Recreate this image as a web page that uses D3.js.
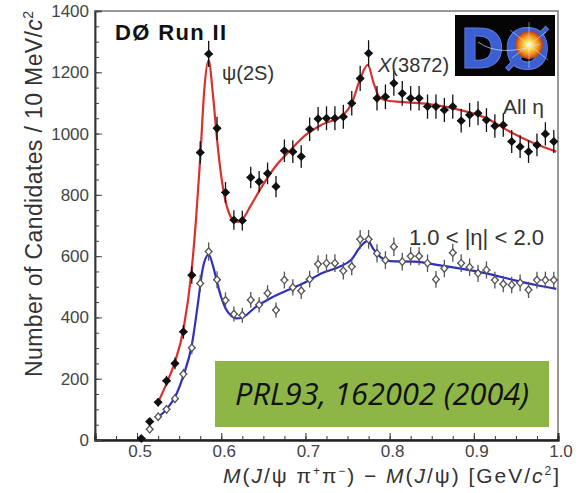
<!DOCTYPE html>
<html>
<head>
<meta charset="utf-8">
<script src="https://cdn.jsdelivr.net/npm/d3@7"></script>
<style>
  body { margin: 0; background: #fff; }
  svg { display: block; font-family: 'Liberation Sans', Arial, sans-serif; }
</style>
</head>
<body>
<svg id="chart" width="588" height="493"></svg>
<script>
// bin centres (10 MeV bins) and candidate counts
var binCentres = [0.505, 0.515, 0.525, 0.535, 0.545, 0.555, 0.565, 0.575, 0.585, 0.595,
                  0.605, 0.615, 0.625, 0.635, 0.645, 0.655, 0.665, 0.675, 0.685, 0.695,
                  0.705, 0.715, 0.725, 0.735, 0.745, 0.755, 0.765, 0.775, 0.785, 0.795,
                  0.805, 0.815, 0.825, 0.835, 0.845, 0.855, 0.865, 0.875, 0.885, 0.895,
                  0.905, 0.915, 0.925, 0.935, 0.945, 0.955, 0.965, 0.975, 0.985, 0.995];

var allEta = [5, 60, 123, 193, 250, 353, 538, 938, 1260, 1017,
              808, 718, 716, 857, 843, 870, 827, 944, 941, 925,
              1014, 1048, 1050, 1050, 1055, 1099, 1180, 1262, 1115, 1120,
              1164, 1131, 1115, 1115, 1088, 1088, 1077, 1088, 1042, 1061,
              1066, 1044, 1025, 1028, 974, 957, 941, 963, 999, 974];

var fwdEta = [null, 35, 76, 100, 135, 215, 301, 511, 615, 523,
              456, 411, 407, 457, 441, 479, 424, 522, 498, 487,
              525, 574, 577, 577, 552, 566, 655, 655, 609, 587,
              631, 582, 600, 600, 577, 524, 560, 611, 577, 564,
              544, 555, 522, 509, 506, 513, 490, 522, 522, 522];

// fitted curves
var fitAllX = [0.525, 0.535, 0.545, 0.555, 0.565, 0.570, 0.575, 0.580, 0.585, 0.590,
               0.595, 0.600, 0.605, 0.610, 0.615, 0.620, 0.625, 0.635, 0.650, 0.665,
               0.680, 0.700, 0.720, 0.745, 0.755, 0.765, 0.774, 0.781, 0.788, 0.797,
               0.820, 0.845, 0.876, 0.915, 0.943, 0.970, 0.998];
var fitAllY = [123, 185, 255, 360, 560, 720, 920, 1150, 1240, 1130,
               980, 860, 780, 735, 715, 712, 720, 765, 835, 895,
               940, 995, 1030, 1061, 1099, 1178, 1224, 1165, 1118, 1108,
               1102, 1097, 1082, 1050, 1006, 970, 941];

var fitFwdX = [0.525, 0.535, 0.545, 0.555, 0.565, 0.572, 0.578, 0.585, 0.590, 0.595,
               0.600, 0.605, 0.612, 0.618, 0.625, 0.640, 0.660, 0.680, 0.700, 0.720,
               0.740, 0.755, 0.765, 0.774, 0.781, 0.790, 0.800, 0.830, 0.860, 0.915,
               0.950, 0.975, 0.998];
var fitFwdY = [75, 100, 140, 210, 310, 440, 560, 605, 570, 515,
               465, 430, 405, 397, 400, 432, 465, 490, 515, 545,
               565, 590, 630, 650, 622, 595, 584, 582, 570, 544,
               520, 505, 493];

var xTicks = [0.5, 0.6, 0.7, 0.8, 0.9, 1.0];
var yTicks = [0, 200, 400, 600, 800, 1000, 1200, 1400];

/**************************************************************************************/

var svg = d3.select('#chart');
var plotL = 95, plotR = 558, plotT = 11, plotB = 440;

var x = d3.scaleLinear().domain([0.45, 1.0]).range([plotL, plotR]);
var y = d3.scaleLinear().domain([0, 1400]).range([plotB, plotT]);

// frame
svg.append('rect')
    .attr('x', plotL).attr('y', plotT)
    .attr('width', plotR - plotL).attr('height', plotB - plotT)
    .attr('fill', 'none').attr('stroke', '#777').attr('stroke-width', 1.5);

// axes, ticks pointing inside
var xAxis = d3.axisTop(x).tickValues(xTicks).tickSize(7).tickFormat('');
var xMinor = d3.axisTop(x).tickValues(d3.range(0.45, 1.0001, 0.025)).tickSize(4).tickFormat('');
var yAxis = d3.axisRight(y).tickValues(yTicks).tickSize(7).tickFormat('');
var yMinor = d3.axisRight(y).tickValues(d3.range(0, 1401, 50)).tickSize(4).tickFormat('');

[xAxis, xMinor].forEach(function(a){
    var g = svg.append('g').attr('transform', 'translate(0,' + plotB + ')').call(a);
    g.select('.domain').attr('stroke', '#222').attr('stroke-width', 2);
    g.selectAll('.tick line').attr('stroke', '#333');
});
[yAxis, yMinor].forEach(function(a){
    var g = svg.append('g').attr('transform', 'translate(' + plotL + ',0)').call(a);
    g.select('.domain').attr('stroke', '#333').attr('stroke-width', 1.5);
    g.selectAll('.tick line').attr('stroke', '#444');
});

// tick labels
svg.append('g').selectAll('text').data(xTicks).enter().append('text')
    .attr('x', function(d){ return x(d) + 3; })
    .attr('y', 457)
    .attr('text-anchor', 'middle')
    .attr('font-size', 17).attr('fill', '#444')
    .text(function(d){ return d.toFixed(1); });

svg.append('g').selectAll('text').data(yTicks).enter().append('text')
    .attr('x', 89)
    .attr('y', function(d){ return y(d) + 6; })
    .attr('text-anchor', 'end')
    .attr('font-size', 17).attr('fill', '#444')
    .text(function(d){ return d; });

// axis titles
var yTitle = svg.append('text')
    .attr('transform', 'translate(42,194) rotate(-90)')
    .attr('text-anchor', 'middle')
    .attr('font-size', 23).attr('fill', '#333')
    .attr('textLength', 366).attr('lengthAdjust', 'spacing');
yTitle.append('tspan').text('Number of Candidates / 10 MeV/');
yTitle.append('tspan').attr('font-style', 'italic').text('c');
yTitle.append('tspan').attr('font-size', 14).attr('dy', -9).text('2');

var xTitle = svg.append('text')
    .attr('x', 391).attr('y', 483)
    .attr('text-anchor', 'middle')
    .attr('font-size', 21).attr('fill', '#333')
    .attr('textLength', 336).attr('lengthAdjust', 'spacing');
xTitle.append('tspan').attr('font-style', 'italic').text('M');
xTitle.append('tspan').text('(');
xTitle.append('tspan').attr('font-style', 'italic').text('J');
xTitle.append('tspan').text('/\u03c8 \u03c0');
xTitle.append('tspan').attr('font-size', 12).attr('dy', -8).text('+');
xTitle.append('tspan').attr('dy', 8).text('\u03c0');
xTitle.append('tspan').attr('font-size', 12).attr('dy', -8).text('\u2212');
xTitle.append('tspan').attr('dy', 8).text(') \u2212 ');
xTitle.append('tspan').attr('font-style', 'italic').text('M');
xTitle.append('tspan').text('(');
xTitle.append('tspan').attr('font-style', 'italic').text('J');
xTitle.append('tspan').text('/\u03c8) [GeV/');
xTitle.append('tspan').attr('font-style', 'italic').text('c');
xTitle.append('tspan').attr('font-size', 12).attr('dy', -8).text('2');
xTitle.append('tspan').attr('dy', 8).text(']');

/**************************************************************************************/

// fit curves
var line = d3.line()
    .x(function(d){ return x(d[0]); })
    .y(function(d){ return y(d[1]); })
    .curve(d3.curveMonotoneX);

svg.append('path')
    .attr('d', line(d3.zip(fitAllX, fitAllY)))
    .attr('fill', 'none').attr('stroke', '#d8322e').attr('stroke-width', 2.2);

svg.append('path')
    .attr('d', line(d3.zip(fitFwdX, fitFwdY)))
    .attr('fill', 'none').attr('stroke', '#2f2fc0').attr('stroke-width', 2.2);

// data points with error bars (~1.2 sqrt(N), as drawn)
function drawPoints(values, filled){
    var pts = binCentres.map(function(c, i){ return { x: c, v: values[i] }; })
        .filter(function(d){ return d.v != null; });
    var g = svg.append('g');
    var colour = filled ? '#111' : '#555';

    g.selectAll('.err').data(pts).enter().append('line')
        .attr('x1', function(d){ return x(d.x); })
        .attr('x2', function(d){ return x(d.x); })
        .attr('y1', function(d){ return y(d.v + 1.2*Math.sqrt(d.v)); })
        .attr('y2', function(d){ return y(Math.max(0, d.v - 1.2*Math.sqrt(d.v))); })
        .attr('stroke', colour).attr('stroke-width', 1.3);

    g.selectAll('.hbar').data(pts).enter().append('line')
        .attr('x1', function(d){ return x(d.x) - 4; })
        .attr('x2', function(d){ return x(d.x) + 4; })
        .attr('y1', function(d){ return y(d.v); })
        .attr('y2', function(d){ return y(d.v); })
        .attr('stroke', colour).attr('stroke-width', 1.3);

    g.selectAll('.mark').data(pts).enter().append('path')
        .attr('transform', function(d){ return 'translate(' + x(d.x) + ',' + y(d.v) + ')'; })
        .attr('d', filled ? 'M 0 -3.6 L 3.6 0 L 0 3.6 L -3.6 0 z' : 'M 0 -3.8 L 3.2 0 L 0 3.8 L -3.2 0 z')
        .attr('fill', filled ? '#111' : '#fff')
        .attr('stroke', colour).attr('stroke-width', 1.3);
}
drawPoints(fwdEta, false);
drawPoints(allEta, true);

/**************************************************************************************/

// labels inside the plot
svg.append('text').attr('x', 115).attr('y', 40)
    .attr('font-size', 22).attr('font-weight', 'bold').attr('fill', '#111')
    .attr('textLength', 111).attr('lengthAdjust', 'spacing')
    .text('D\u00d8 Run II');

svg.append('text').attr('x', 222).attr('y', 80)
    .attr('font-size', 20).attr('fill', '#333')
    .text('\u03c8(2S)');

var xl = svg.append('text').attr('x', 378).attr('y', 72)
    .attr('font-size', 20).attr('fill', '#333');
xl.append('tspan').attr('font-style', 'italic').text('X');
xl.append('tspan').text('(3872)');

svg.append('text').attr('x', 503).attr('y', 114)
    .attr('font-size', 21).attr('fill', '#333')
    .text('All \u03b7');

svg.append('text').attr('x', 409).attr('y', 245)
    .attr('font-size', 22).attr('fill', '#333')
    .text('1.0 < |\u03b7| < 2.0');

// DØ logo
var defs = svg.append('defs');
var grad = defs.append('radialGradient').attr('id', 'burst');
grad.append('stop').attr('offset', '0%').attr('stop-color', '#ffffff');
grad.append('stop').attr('offset', '30%').attr('stop-color', '#ffe14a');
grad.append('stop').attr('offset', '70%').attr('stop-color', '#f08a1c');
grad.append('stop').attr('offset', '100%').attr('stop-color', '#b43a12');

var logo = svg.append('g');
logo.append('rect').attr('x', 455).attr('y', 15).attr('width', 100).attr('height', 61).attr('fill', '#050505');
logo.append('text').attr('x', 460).attr('y', 68)
    .attr('font-size', 56).attr('font-weight', 'bold')
    .attr('font-family', 'DejaVu Sans, sans-serif')
    .attr('textLength', 90).attr('lengthAdjust', 'spacingAndGlyphs')
    .attr('fill', '#3b5fd0').attr('stroke', '#5b7de0').attr('stroke-width', 1)
    .text('D\u00d8');
logo.append('circle').attr('cx', 529).attr('cy', 45).attr('r', 14).attr('fill', 'url(#burst)');
logo.append('path').attr('d', 'M 478 42 Q 500 58 540 44').attr('fill', 'none').attr('stroke', '#cfd8ff').attr('stroke-width', 0.7);
logo.append('path').attr('d', 'M 510 30 L 548 60 M 512 58 L 546 32 M 529 22 L 529 68')
    .attr('stroke', '#e8f0ff').attr('stroke-width', 0.6).attr('opacity', 0.8);

// reference box
svg.append('rect').attr('x', 215).attr('y', 361).attr('width', 334).attr('height', 66).attr('fill', '#8db647');
svg.append('text').attr('x', 382).attr('y', 405)
    .attr('text-anchor', 'middle')
    .attr('font-family', 'Open Sans, sans-serif').attr('font-style', 'italic')
    .attr('font-size', 31).attr('fill', '#111')
    .attr('textLength', 294).attr('lengthAdjust', 'spacingAndGlyphs')
    .text('PRL93, 162002 (2004)');
</script>
</body>
</html>
